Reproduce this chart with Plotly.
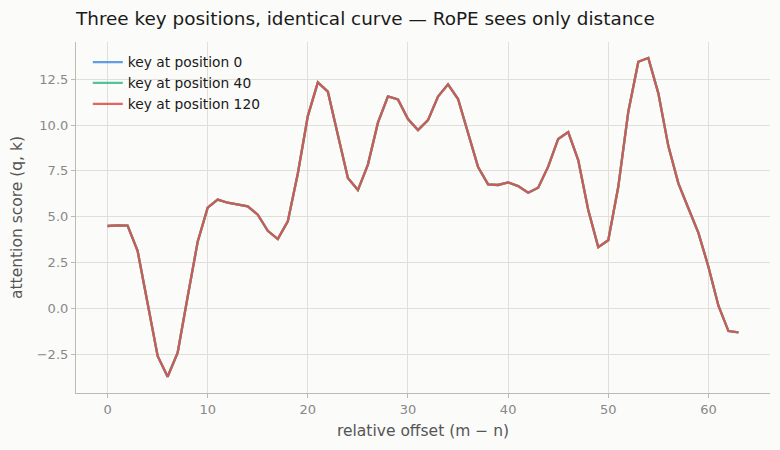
import plotly.graph_objects as go

offsets = list(range(64))
scores = [4.49, 4.53, 4.51, 3.14, 0.28, -2.60, -3.73, -2.42, 0.63, 3.63,
          5.49, 5.93, 5.76, 5.65, 5.56, 5.11, 4.23, 3.78, 4.74, 7.36,
          10.49, 12.33, 11.82, 9.45, 7.11, 6.45, 7.84, 10.13, 11.56, 11.40,
          10.33, 9.73, 10.27, 11.55, 12.22, 11.42, 9.55, 7.71, 6.76, 6.73,
          6.87, 6.67, 6.31, 6.58, 7.73, 9.24, 9.62, 8.09, 5.36, 3.34,
          3.71, 6.63, 10.73, 13.45, 13.66, 11.73, 8.85, 6.82, 5.46, 4.12,
          2.27, 0.14, -1.24, -1.31]
key_positions = [0, 40, 120]
series_names = [f"key at position {p}" for p in key_positions]
colors = ["#4a8fe0", "#3dbb8a", "#de504c"]

title = "Three key positions, identical curve \u2014 RoPE sees only distance"
x_label = "relative offset (m \u2212 n)"
y_label = "attention score (q, k)"

fig = go.Figure()
for name, col in zip(series_names, colors):
    fig.add_trace(go.Scatter(
        x=offsets, y=scores, mode="lines", name=name,
        line=dict(color=col, width=2.3), opacity=0.88,
    ))

bg = "#fbfbf9"
grid = "#e2dfd8"
spine = "#bdbab2"
tickc = "#888888"

fig.update_layout(
    width=780, height=450,
    paper_bgcolor=bg, plot_bgcolor=bg,
    margin=dict(l=76, r=10, t=42, b=57),
    font=dict(family="DejaVu Sans", color="#555555", size=12),
    title=dict(text=title, x=76/780, xanchor="left", y=1 - 19/450, yanchor="middle",
               font=dict(size=18.4, color="#1a1a1a", family="DejaVu Sans")),
    legend=dict(x=0.017, y=0.987, xanchor="left", yanchor="top",
                bgcolor="rgba(0,0,0,0)", font=dict(size=13.8, color="#1a1a1a"),
                tracegroupgap=0, itemwidth=30),
    showlegend=True,
)
fig.update_xaxes(
    range=[-3.15, 66.15], dtick=10, tick0=0,
    showgrid=True, gridcolor=grid, gridwidth=1,
    zeroline=False, showline=True, linecolor=spine, linewidth=1.2,
    ticks="outside", ticklen=4, tickcolor=spine,
    tickfont=dict(size=13, color=tickc),
    title=dict(text=x_label, font=dict(size=15.5, color="#555555"), standoff=9),
)
fig.update_yaxes(
    range=[-4.62, 14.53], dtick=2.5, tick0=0, tickformat=".1f",
    showgrid=True, gridcolor=grid, gridwidth=1,
    zeroline=False, showline=True, linecolor=spine, linewidth=1.2,
    ticks="outside", ticklen=4, tickcolor=spine,
    tickfont=dict(size=13, color=tickc),
    title=dict(text=y_label, font=dict(size=15.5, color="#555555"), standoff=10),
)

fig.write_html(
    "out.html",
    config={"displayModeBar": False},
    post_script="document.body.style.margin='0';document.body.style.background='#fbfbf9';",
)
